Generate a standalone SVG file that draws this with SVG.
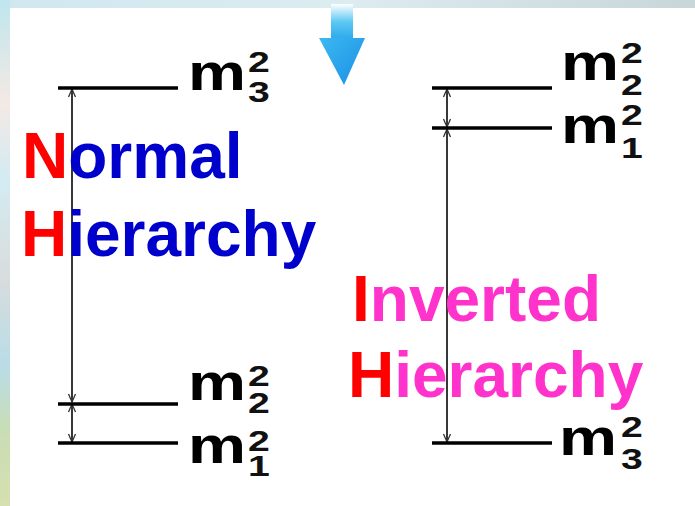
<svg xmlns="http://www.w3.org/2000/svg" width="695" height="506" viewBox="0 0 695 506">
<defs>
<linearGradient id="leftStrip" x1="0" y1="0" x2="0" y2="1">
<stop offset="0" stop-color="#bfe6ee"/>
<stop offset="0.2" stop-color="#f3e9e4"/>
<stop offset="0.35" stop-color="#d4ebf3"/>
<stop offset="0.55" stop-color="#d8dcdc"/>
<stop offset="0.72" stop-color="#b9dce8"/>
<stop offset="0.85" stop-color="#c9ddb5"/>
<stop offset="1" stop-color="#d6e0b0"/>
</linearGradient>
<linearGradient id="topBand" x1="0" y1="0" x2="1" y2="0">
<stop offset="0" stop-color="#cfe8ee"/>
<stop offset="0.5" stop-color="#dcecf1"/>
<stop offset="1" stop-color="#c8d6d8"/>
</linearGradient>
<linearGradient id="arrowShaft" x1="0" y1="0" x2="0" y2="1">
<stop offset="0" stop-color="#ffffff"/>
<stop offset="0.5" stop-color="#5cc8f2"/>
<stop offset="1" stop-color="#2aa7ec"/>
</linearGradient>
<linearGradient id="arrowHead" x1="0" y1="0" x2="1" y2="1">
<stop offset="0" stop-color="#3bb8f0"/>
<stop offset="1" stop-color="#1b8fe6"/>
</linearGradient>
<marker id="tip" viewBox="-10 -6 12 12" refX="0" refY="0" markerWidth="12" markerHeight="12" markerUnits="userSpaceOnUse" orient="auto-start-reverse">
<path d="M-8,-3.5 L0,0 L-8,3.5" fill="none" stroke="#333" stroke-width="1.3"/>
</marker>
</defs>
<style>
.lvl{stroke:#000;stroke-width:3.5;fill:none}
.gap{stroke:#222;stroke-width:1.8;fill:none;marker-start:url(#tip);marker-end:url(#tip)}
.m{font-family:"Liberation Sans",Arial,sans-serif;font-weight:bold;font-size:52px;fill:#000}
.d{font-family:"Liberation Sans",Arial,sans-serif;font-weight:bold;font-size:29px;fill:#111}
.t{font-family:"Liberation Sans",Arial,sans-serif;font-weight:bold;font-size:64px}
.red{fill:#ff0000}
.blue{fill:#0000cc}
.pink{fill:#ff33cc}
</style>
<rect width="695" height="506" fill="#ffffff"/>
<rect x="0" y="0" width="695" height="8" fill="url(#topBand)"/>
<rect x="0" y="0" width="10" height="506" fill="url(#leftStrip)"/>

<g id="down-arrow">
<rect x="331" y="4" width="22" height="36" fill="url(#arrowShaft)"/>
<path d="M319,38 L365,38 L344,85 Z" fill="url(#arrowHead)"/>
</g>

<g id="connectors">
<line class="gap" x1="72" y1="89" x2="72" y2="402"/>
<line class="gap" x1="72" y1="404" x2="72" y2="442"/>
<line class="gap" x1="447" y1="89" x2="447" y2="127"/>
<line class="gap" x1="447" y1="129" x2="447" y2="442"/>
</g>

<g id="normal-m3">
<line class="lvl" x1="58" y1="88" x2="178" y2="88"/>
<text class="m" x="188" y="90" textLength="58" lengthAdjust="spacingAndGlyphs">m</text>
<text class="d" transform="translate(248,0) scale(1.35,1)"><tspan x="0" y="72">2</tspan><tspan x="0" y="102">3</tspan></text>
</g>
<g id="normal-m2">
<line class="lvl" x1="58" y1="404" x2="178" y2="404"/>
<text class="m" x="188" y="400" textLength="58" lengthAdjust="spacingAndGlyphs">m</text>
<text class="d" transform="translate(248,0) scale(1.35,1)"><tspan x="0" y="386">2</tspan><tspan x="0" y="413">2</tspan></text>
</g>
<g id="normal-m1">
<line class="lvl" x1="58" y1="443" x2="178" y2="443"/>
<text class="m" x="188" y="463" textLength="58" lengthAdjust="spacingAndGlyphs">m</text>
<text class="d" transform="translate(248,0) scale(1.35,1)"><tspan x="0" y="451">2</tspan><tspan x="0" y="476">1</tspan></text>
</g>

<g id="inverted-m2">
<line class="lvl" x1="432" y1="88" x2="552" y2="88"/>
<text class="m" x="561" y="80" textLength="58" lengthAdjust="spacingAndGlyphs">m</text>
<text class="d" transform="translate(621,0) scale(1.35,1)"><tspan x="0" y="63">2</tspan><tspan x="0" y="95">2</tspan></text>
</g>
<g id="inverted-m1">
<line class="lvl" x1="432" y1="128" x2="552" y2="128"/>
<text class="m" x="561" y="143" textLength="58" lengthAdjust="spacingAndGlyphs">m</text>
<text class="d" transform="translate(621,0) scale(1.35,1)"><tspan x="0" y="125">2</tspan><tspan x="0" y="158">1</tspan></text>
</g>
<g id="inverted-m3">
<line class="lvl" x1="432" y1="443" x2="552" y2="443"/>
<text class="m" x="559" y="455" textLength="58" lengthAdjust="spacingAndGlyphs">m</text>
<text class="d" transform="translate(621,0) scale(1.35,1)"><tspan x="0" y="437">2</tspan><tspan x="0" y="469">3</tspan></text>
</g>

<g id="normal-label">
<text class="t" x="22" y="178"><tspan class="red">N</tspan><tspan class="blue">ormal</tspan></text>
<text class="t" x="21" y="256"><tspan class="red">H</tspan><tspan class="blue">ierarchy</tspan></text>
</g>
<g id="inverted-label">
<text class="t" x="352" y="321"><tspan class="red">I</tspan><tspan class="pink">nverted</tspan></text>
<text class="t" x="348" y="397"><tspan class="red">H</tspan><tspan class="pink">ierarchy</tspan></text>
</g>
</svg>
